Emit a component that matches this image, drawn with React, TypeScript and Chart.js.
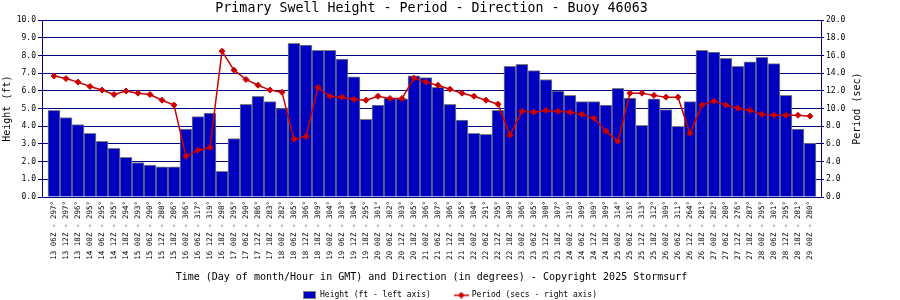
import React, { useEffect, useRef } from 'react';
import { Chart, registerables } from 'chart.js';

Chart.register(...registerables);

const TITLE = 'Primary Swell Height - Period - Direction - Buoy 46063';
const X_TITLE = 'Time (Day of month/Hour in GMT) and Direction (in degrees) - Copyright 2025 Stormsurf';
const LEFT_TITLE = 'Height (ft)';
const RIGHT_TITLE = 'Period (sec)';
const HEIGHT_LEGEND = 'Height (ft - left axis)';
const PERIOD_LEGEND = 'Period (secs - right axis)';

const TIMES = [
  '13 06Z', '13 12Z', '13 18Z',
  '14 00Z', '14 06Z', '14 12Z', '14 18Z',
  '15 00Z', '15 06Z', '15 12Z', '15 18Z',
  '16 00Z', '16 06Z', '16 12Z', '16 18Z',
  '17 00Z', '17 06Z', '17 12Z', '17 18Z',
  '18 00Z', '18 06Z', '18 12Z', '18 18Z',
  '19 00Z', '19 06Z', '19 12Z', '19 18Z',
  '20 00Z', '20 06Z', '20 12Z', '20 18Z',
  '21 00Z', '21 06Z', '21 12Z', '21 18Z',
  '22 00Z', '22 06Z', '22 12Z', '22 18Z',
  '23 00Z', '23 06Z', '23 12Z', '23 18Z',
  '24 00Z', '24 06Z', '24 12Z', '24 18Z',
  '25 00Z', '25 06Z', '25 12Z', '25 18Z',
  '26 00Z', '26 06Z', '26 12Z', '26 18Z',
  '27 00Z', '27 06Z', '27 12Z', '27 18Z',
  '28 00Z', '28 06Z', '28 12Z', '28 18Z',
  '29 00Z',
];

const DIRECTIONS = [
  297, 297, 296,
  295, 295, 295, 294,
  293, 290, 288, 286,
  306, 317, 319, 298,
  295, 290, 286, 283,
  282, 305, 306, 309,
  304, 303, 304, 295,
  301, 302, 303, 305,
  306, 307, 306, 305,
  304, 291, 295, 309,
  306, 305, 308, 307,
  310, 309, 309, 309,
  314, 316, 313, 312,
  309, 311, 264, 281,
  282, 280, 276, 287,
  295, 301, 295, 281,
  280,
];

const HEIGHT_FT = [
  4.9, 4.5, 4.1,
  3.6, 3.15, 2.75, 2.25,
  1.95, 1.8, 1.7, 1.7,
  3.85, 4.55, 4.75, 1.45,
  3.3, 5.25, 5.7, 5.4,
  5.0, 8.7, 8.6, 8.3,
  8.3, 7.8, 6.8, 4.4,
  5.2, 5.6, 5.55, 6.85,
  6.75, 6.2, 5.25, 4.35,
  3.6, 3.55, 4.9, 7.4,
  7.5, 7.15, 6.65, 6.0,
  5.75, 5.4, 5.4, 5.2,
  6.15, 5.6, 4.05, 5.55,
  4.95, 4.0, 5.4, 8.3,
  8.2, 7.85, 7.4, 7.65,
  7.9, 7.55, 5.75, 3.85,
  3.05,
];

const PERIOD_SEC = [
  13.7, 13.4, 13.0,
  12.5, 12.1, 11.6, 12.0,
  11.75, 11.6, 10.95, 10.4,
  4.6, 5.3, 5.6, 16.5,
  14.35, 13.3, 12.65, 12.1,
  11.85, 6.55, 6.85, 12.4,
  11.4, 11.3, 11.05, 10.95,
  11.4, 11.15, 11.15, 13.45,
  13.0, 12.65, 12.2, 11.75,
  11.4, 10.95, 10.5, 7.0,
  9.7, 9.6, 9.8, 9.7,
  9.6, 9.35, 8.9, 7.45,
  6.3, 11.75, 11.75, 11.5,
  11.3, 11.3, 7.2, 10.4,
  10.85, 10.4, 10.05, 9.8,
  9.35, 9.25, 9.25, 9.25,
  9.15,
];

const LEFT_MIN = 0;
const LEFT_MAX = 10;
const LEFT_STEP = 1;
const RIGHT_MIN = 0;
const RIGHT_MAX = 20;
const RIGHT_STEP = 2;

const MONO = "'DejaVu Sans Mono', monospace";
const NAVY = '#000080';
const BLUE = '#0000c0';
const GRAY = '#808080';
const RED = '#cc0000';

function makeImage(w: number, h: number, draw: (g: CanvasRenderingContext2D) => void) {
  const c = document.createElement('canvas');
  c.width = w;
  c.height = h;
  const g = c.getContext('2d');
  if (g) draw(g);
  return c;
}

export default function App() {
  const ref = useRef<HTMLCanvasElement | null>(null);

  useEffect(() => {
    document.body.style.margin = '0';
    const canvas = ref.current;
    if (!canvas) return;

    const labels = TIMES.map((t, i) => `${t} - ${DIRECTIONS[i]}°`);
    const heightData = HEIGHT_FT.map((v, i) => ({ x: i, y: v }));
    const periodData = PERIOD_SEC.map((v, i) => ({ x: i, y: v }));

    const boxImg = makeImage(13, 8, (g) => {
      g.fillStyle = GRAY;
      g.fillRect(0, 0, 13, 8);
      g.fillStyle = BLUE;
      g.fillRect(1, 1, 11, 6);
    });
    const lineImg = makeImage(15, 7, (g) => {
      g.fillStyle = RED;
      g.fillRect(0, 3, 15, 1.5);
      g.beginPath();
      g.moveTo(7.5, 0.5);
      g.lineTo(11, 3.75);
      g.lineTo(7.5, 7);
      g.lineTo(4, 3.75);
      g.closePath();
      g.fill();
    });

    const rightTitle = {
      id: 'rightTitle',
      afterDraw(chart: any) {
        const s = chart.scales.y1;
        const area = chart.chartArea;
        const ctx = chart.ctx;
        ctx.save();
        ctx.translate(s.left + 36.5, (area.top + area.bottom) / 2);
        ctx.rotate(-Math.PI / 2);
        ctx.font = `10px ${MONO}`;
        ctx.fillStyle = '#000';
        ctx.textAlign = 'center';
        ctx.textBaseline = 'middle';
        ctx.fillText(RIGHT_TITLE, 0, 0);
        ctx.restore();
      },
    };

    const chart = new Chart(canvas, {
      type: 'bar',
      data: {
        datasets: [
          {
            type: 'line',
            label: PERIOD_LEGEND,
            data: periodData,
            xAxisID: 'x',
            yAxisID: 'y1',
            borderColor: RED,
            backgroundColor: RED,
            borderWidth: 1.5,
            tension: 0,
            pointStyle: 'rectRot',
            pointRadius: 3,
            pointBackgroundColor: RED,
            pointBorderColor: RED,
            pointBorderWidth: 1,
            order: 0,
          } as any,
          {
            type: 'bar',
            label: HEIGHT_LEGEND,
            data: heightData,
            xAxisID: 'x',
            yAxisID: 'y',
            backgroundColor: BLUE,
            borderColor: GRAY,
            borderWidth: 1,
            barPercentage: 1,
            categoryPercentage: 1,
            order: 1,
          } as any,
        ],
      },
      options: {
        responsive: false,
        maintainAspectRatio: false,
        animation: false,
        devicePixelRatio: 1,
        layout: { padding: 0 },
        plugins: {
          title: {
            display: true,
            text: TITLE,
            fullSize: false,
            color: '#000',
            font: { family: MONO, size: 13.3, weight: 'normal', lineHeight: 1.2 },
            padding: { top: 1, bottom: 3.3 },
          },
          legend: {
            display: true,
            position: 'bottom',
            maxHeight: 33,
            labels: {
              usePointStyle: true,
              pointStyleWidth: 13,
              padding: 24,
              color: '#000',
              font: { family: MONO, size: 8 },
              generateLabels: () => [
                {
                  text: HEIGHT_LEGEND,
                  fillStyle: BLUE,
                  strokeStyle: GRAY,
                  lineWidth: 0,
                  pointStyle: boxImg,
                  hidden: false,
                  datasetIndex: 1,
                  fontColor: '#000',
                  rotation: 0,
                },
                {
                  text: PERIOD_LEGEND,
                  fillStyle: RED,
                  strokeStyle: RED,
                  lineWidth: 0,
                  pointStyle: lineImg,
                  hidden: false,
                  datasetIndex: 0,
                  fontColor: '#000',
                  rotation: 0,
                },
              ] as any,
            },
          },
          tooltip: { enabled: false },
        },
        scales: {
          x: {
            type: 'linear',
            min: -1,
            max: 63.92,
            offset: false,
            afterBuildTicks: (s: any) => {
              s.ticks = labels.map((_, i) => ({ value: i }));
            },
            afterFit: (s: any) => {
              s.height = 70;
            },
            grid: { display: false, drawTicks: false },
            border: { display: true, color: NAVY, width: 1 },
            ticks: {
              autoSkip: false,
              minRotation: 90,
              maxRotation: 90,
              padding: 4,
              color: '#000',
              font: { family: MONO, size: 7.5 },
              callback: (v: any) => labels[v] ?? '',
            },
            title: {
              display: true,
              text: X_TITLE,
              color: '#000',
              font: { family: MONO, size: 10 },
              padding: { top: 0, bottom: -16.5 },
            },
          },
          y: {
            position: 'left',
            min: LEFT_MIN,
            max: LEFT_MAX,
            afterFit: (s: any) => {
              s.width = 42;
            },
            ticks: {
              stepSize: LEFT_STEP,
              padding: 2,
              color: '#000',
              font: { family: MONO, size: 8 },
              callback: (v: any) => Number(v).toFixed(1),
            },
            grid: { color: NAVY, lineWidth: 1, tickLength: 4 },
            border: { display: true, color: NAVY, width: 1 },
            title: {
              display: true,
              text: LEFT_TITLE,
              color: '#000',
              font: { family: MONO, size: 10 },
              padding: { top: 1.5, bottom: 0 },
            },
          },
          y1: {
            position: 'right',
            min: RIGHT_MIN,
            max: RIGHT_MAX,
            afterFit: (s: any) => {
              s.width = 79;
            },
            ticks: {
              stepSize: RIGHT_STEP,
              padding: 2,
              color: '#000',
              font: { family: MONO, size: 8 },
              callback: (v: any) => Number(v).toFixed(1),
            },
            grid: { drawOnChartArea: false, color: NAVY, lineWidth: 1, tickLength: 3 },
            border: { display: true, color: NAVY, width: 1 },
          },
        },
      } as any,
      plugins: [rightTitle],
    });

    return () => chart.destroy();
  }, []);

  return (
    <div style={{ position: 'absolute', left: 0, top: 0, width: 900, height: 300, background: '#fff' }}>
      <canvas ref={ref} width={900} height={300} style={{ display: 'block', width: 900, height: 300 }} />
    </div>
  );
}
